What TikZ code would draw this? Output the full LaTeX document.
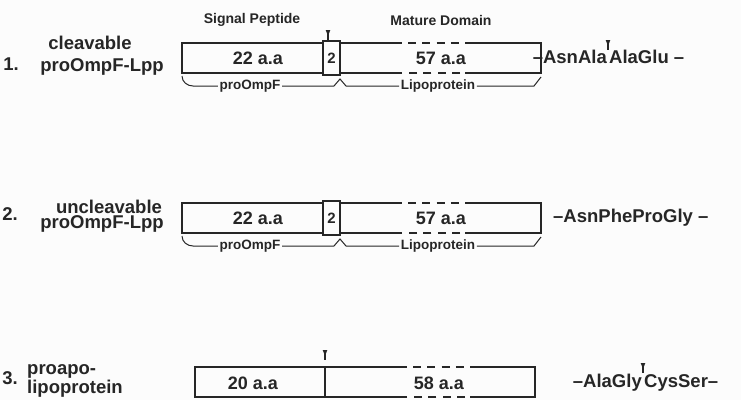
\documentclass[tikz,border=0pt]{standalone}
\usepackage{fontspec}
\setmainfont{Liberation Sans}
\begin{document}
\begin{tikzpicture}[x=1pt,y=-1pt,
  ink/.style={draw=black!85, line width=1.1pt},
  thick ink/.style={draw=black!85, line width=1.8pt},
  lbl/.style={font=\fontsize{18.5}{20}\selectfont\bfseries, text=black!85, inner sep=0pt},
  num/.style={font=\fontsize{18}{20}\selectfont\bfseries, text=black!85, inner sep=0pt},
  hdr/.style={font=\fontsize{14}{16}\selectfont\bfseries, text=black!85, inner sep=0pt},
  brl/.style={font=\fontsize{13.5}{15}\selectfont\bfseries, text=black!85, inner sep=1.5pt},
  seq/.style={font=\fontsize{18.5}{20}\selectfont\bfseries, text=black!85, inner sep=0pt},
  dsh/.style={draw=black!85, line width=1.1pt, dash pattern=on 8pt off 6.33pt}]
\useasboundingbox[fill=black!1] (0,0) rectangle (741,400);
\newcommand{\cleavemark}[2]{%
  \fill[black!85] (#1-2.3,#2) -- (#1+2.3,#2) -- (#1,#2+6) -- cycle;
  \draw[ink] (#1,#2+3) -- (#1,#2+10);}

% headers
\node[hdr] (hsp) at (252,20) {Signal Peptide};
\node[hdr] (hmd) at (441,20) {Mature Domain};

% row labels
\node[lbl] (n1) at (11,64) {1.};
\node[lbl] (l1a) at (90,43) {cleavable};
\node[lbl] (l1b) at (102,67) {proOmpF-Lpp};
\node[lbl] (n2) at (10,214) {2.};
\node[lbl] (l2a) at (109,207) {uncleavable};
\node[lbl] (l2b) at (102,224) {proOmpF-Lpp};
\node[lbl] (n3) at (10,378) {3.};
\node[lbl,anchor=west] (l3a) at (27,371) {proapo-};
\node[lbl,anchor=west] (l3b) at (27,389) {lipoprotein};

% rows 1 and 2
\foreach \dy/\r in {0/1,160/2}{
  \draw[ink] (323,43+\dy) -- (182,43+\dy) -- (182,73+\dy) -- (323,73+\dy);
  \draw[thick ink] (323,41+\dy) rectangle (340,75+\dy);
  \node[num,font=\fontsize{15}{16}\selectfont\bfseries] (two\r) at (331.5,58+\dy) {2};
  \draw[ink] (340,43+\dy) -- (402,43+\dy);
  \draw[dsh] (408,43+\dy) -- (460,43+\dy);
  \draw[ink] (465,43+\dy) -- (541,43+\dy) -- (541,73+\dy) -- (465,73+\dy);
  \draw[dsh] (460,73+\dy) -- (408,73+\dy);
  \draw[ink] (402,73+\dy) -- (340,73+\dy);
  \node[num] (a\r) at (258,58+\dy) {22 a.a};
  \node[num] (b\r) at (441,58+\dy) {57 a.a};
  % brace
  \node[brl] (po\r) at (250,86+\dy) {proOmpF};
  \node[brl] (lp\r) at (438,86+\dy) {Lipoprotein};
  \coordinate (s\r) at (182,76+\dy);
  \coordinate (e\r) at (541,77+\dy);
  \draw[ink,line width=1pt] (s\r) to[out=-90,in=180] (193,86+\dy) -- (po\r.west);
  \draw[ink,line width=1pt] (po\r.east) -- (334,86+\dy) -- (340,79+\dy) -- (346,86+\dy) -- (lp\r.west);
  \draw[ink,line width=1pt] (lp\r.east) -- (534,86+\dy) -- (e\r);
}
\cleavemark{328}{30}

% row 1 sequence
\node[seq,anchor=base east] (q1a) at (607,63.5) {–AsnAla};
\node[seq,anchor=base west] (q1b) at (609,63.5) {AlaGlu –};
\cleavemark{608}{40}

% row 2 sequence
\node[seq,anchor=base west] (q2) at (553,222) {–AsnPheProGly –};

% row 3
\draw[ink] (195,367) rectangle (325,397);
\draw[ink] (325,367) -- (407,367);
\draw[dsh] (413,367) -- (465,367);
\draw[ink] (470,367) -- (535,367) -- (535,397) -- (470,397);
\draw[dsh] (465,397) -- (413,397);
\draw[ink] (407,397) -- (325,397);
\node[num] (a3) at (253,383) {20 a.a};
\node[num] (b3) at (439,383) {58 a.a};
\cleavemark{325}{350}
\node[seq,anchor=base east] (q3a) at (642,387) {–AlaGly};
\node[seq,anchor=base west] (q3b) at (644,387) {CysSer–};
\cleavemark{643}{363}
\end{tikzpicture}
\end{document}
